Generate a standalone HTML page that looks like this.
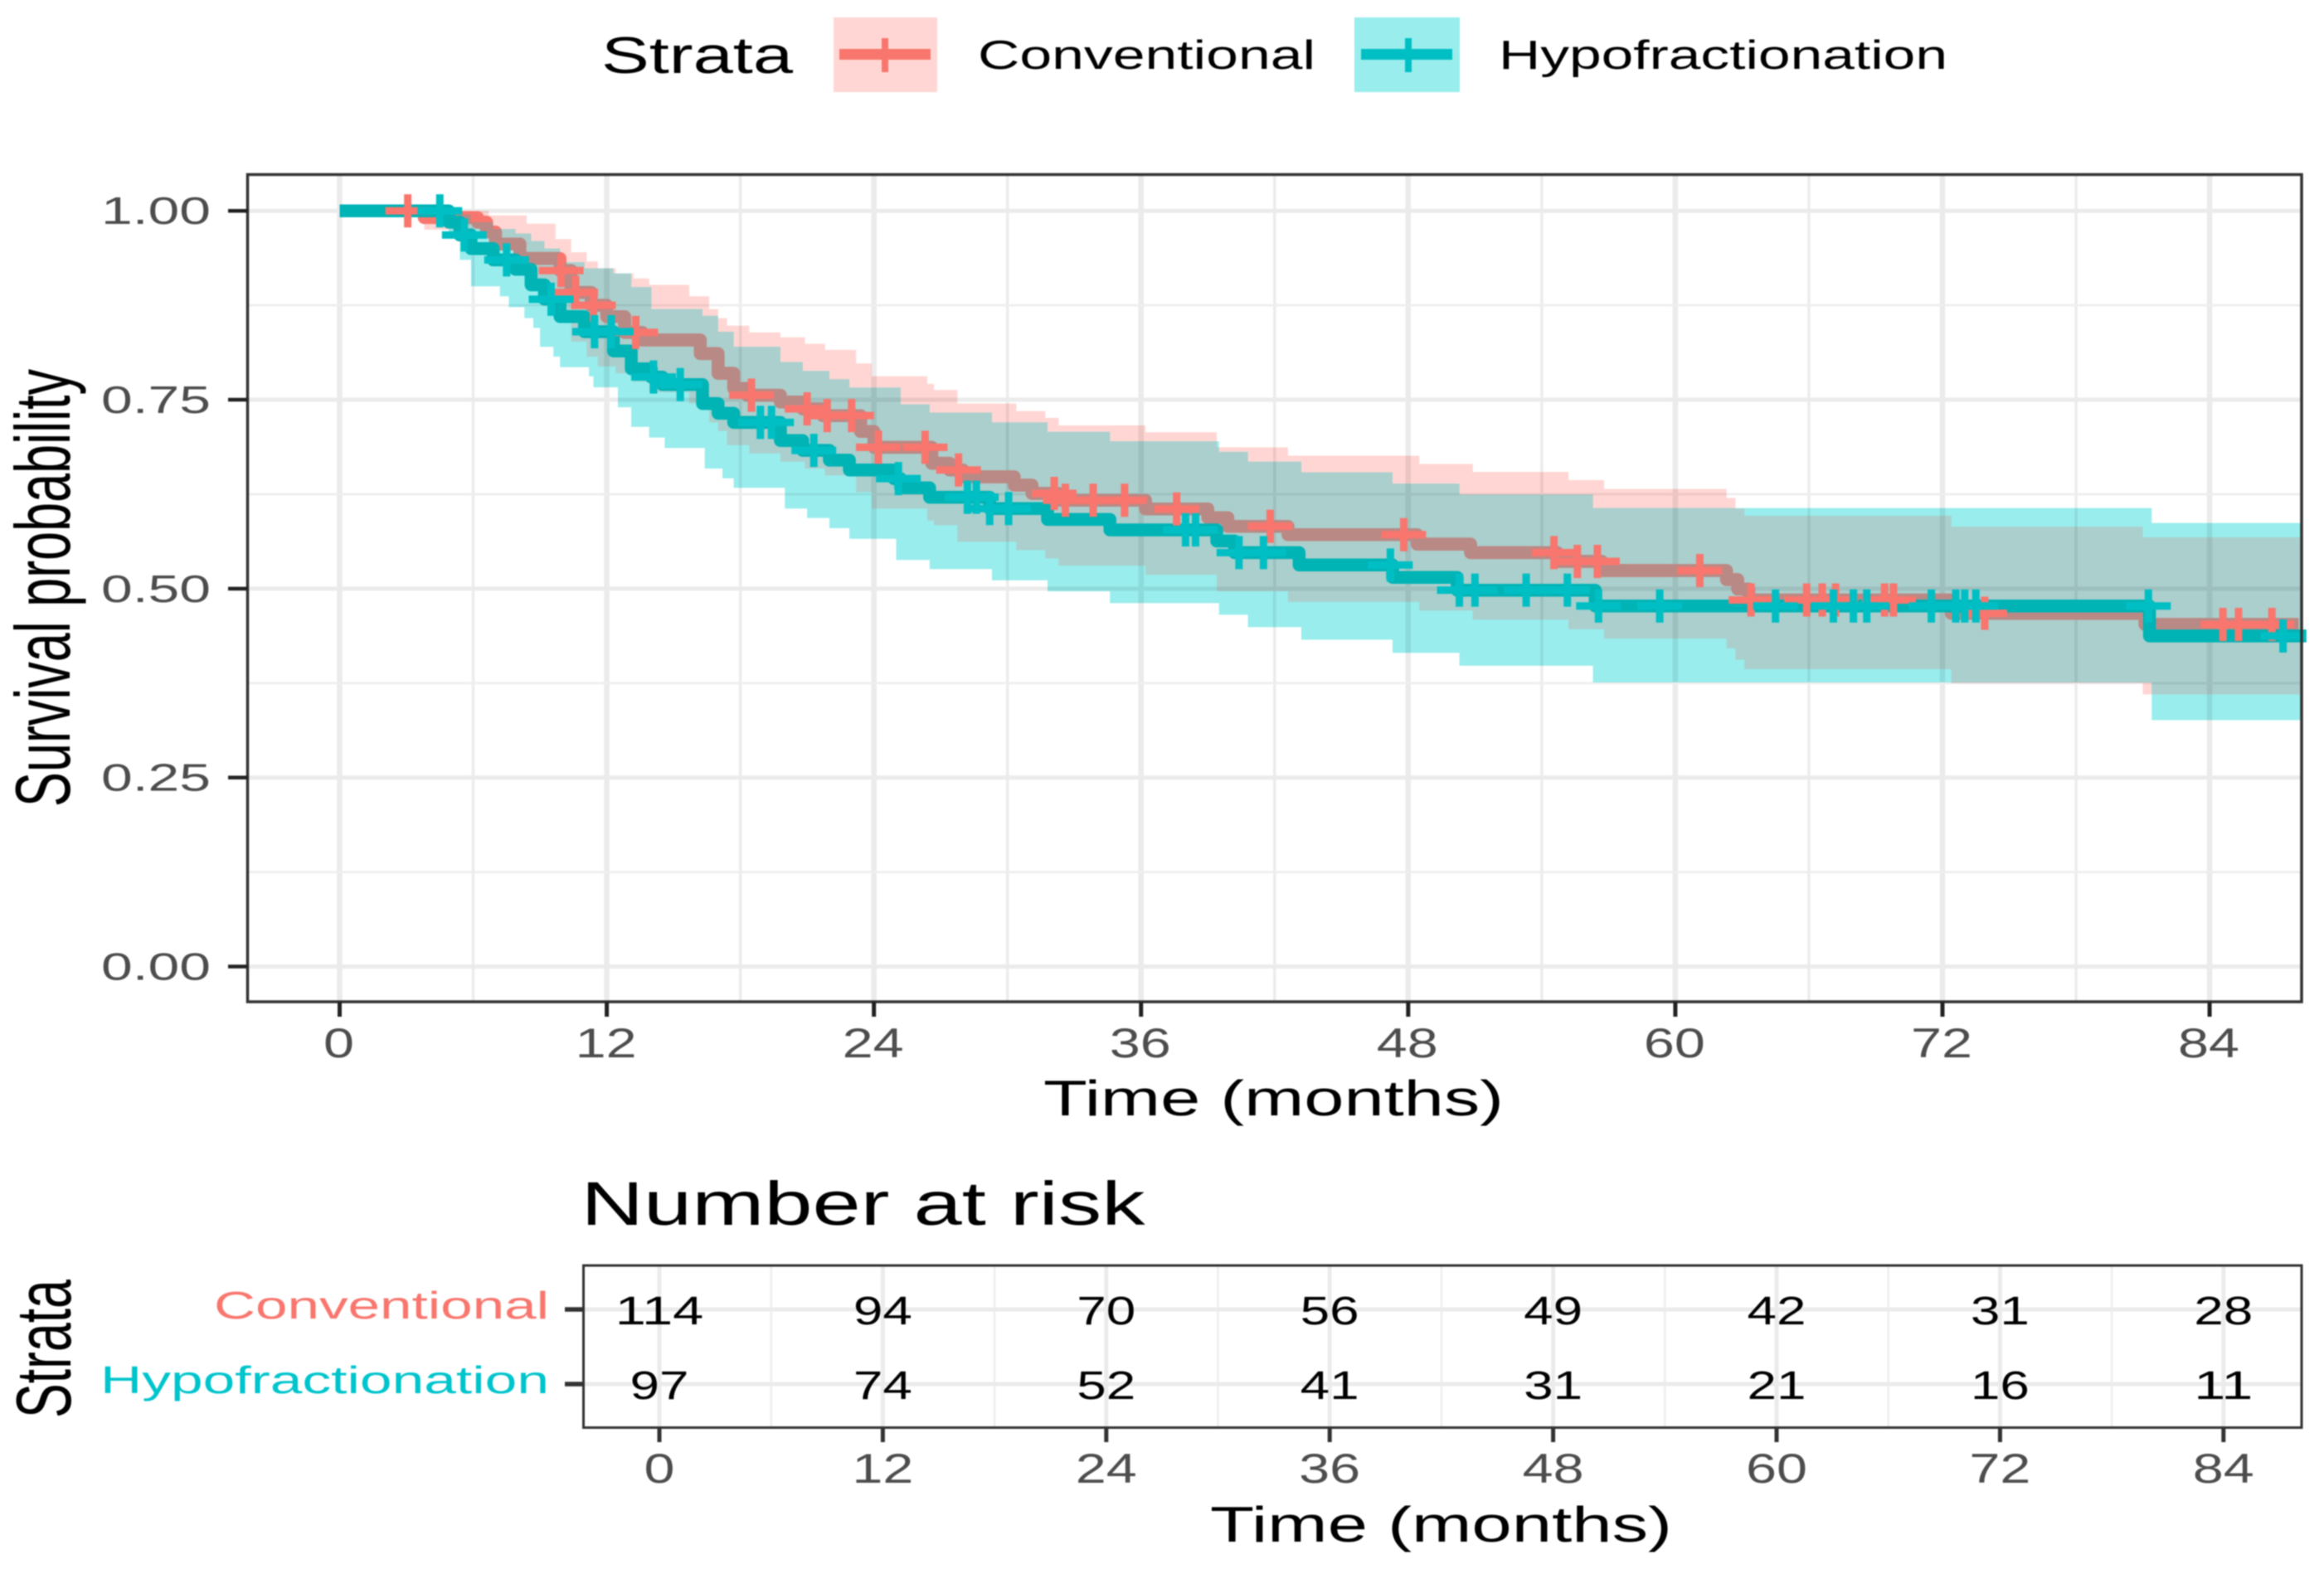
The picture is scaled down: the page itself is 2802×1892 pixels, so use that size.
<!DOCTYPE html>
<html lang="en">
<head>
<meta charset="utf-8">
<title>Survival probability by strata</title>
<style>
html,body{margin:0;padding:0;background:#fff;}
svg{display:block;font-family:"Liberation Sans",sans-serif;filter:blur(0.7px);}
</style>
</head>
<body>
<svg id="chart" xmlns="http://www.w3.org/2000/svg" width="2802" height="1892" viewBox="0 0 2802 1892">
  <rect width="2802" height="1892" fill="#fff"/>

  <g>
    <text x="725" y="88" font-size="62" textLength="231" lengthAdjust="spacingAndGlyphs" fill="#000">Strata</text>
    <g>
      <rect x="1005" y="21" width="125" height="90" fill="#ffd6d3"/>
      <rect x="1012" y="59" width="110" height="13" fill="#f8766d"/>
      <rect x="1063" y="46" width="8" height="41" fill="#f8766d"/>
      <text x="1179" y="83" font-size="49" textLength="407" lengthAdjust="spacingAndGlyphs" fill="#000">Conventional</text>
    </g>
    <g>
      <rect x="1633" y="21" width="127" height="90" fill="#99eded"/>
      <rect x="1641" y="59" width="110" height="13" fill="#00bfc4"/>
      <rect x="1694" y="46" width="8" height="41" fill="#00bfc4"/>
      <text x="1807" y="83" font-size="49" textLength="541" lengthAdjust="spacingAndGlyphs" fill="#000">Hypofractionation</text>
    </g>
  </g>

  <g id="main-grid"></g>
  <g id="ribbons" style="mix-blend-mode:multiply"></g>
  <g id="curves"></g>
  <g id="main-axes"></g>

  <text transform="translate(84,973) rotate(-90)" font-size="94" textLength="528" lengthAdjust="spacingAndGlyphs" fill="#000">Survival probability</text>
  <text x="1258" y="1345" font-size="60" textLength="555" lengthAdjust="spacingAndGlyphs" fill="#000">Time (months)</text>

  <text x="700.5" y="1477" font-size="74" textLength="680" lengthAdjust="spacingAndGlyphs" fill="#000">Number at risk</text>
  <g id="risk-grid"></g>
  <g id="risk-body"></g>
  <text transform="translate(85,1710) rotate(-90)" font-size="94" textLength="167" lengthAdjust="spacingAndGlyphs" fill="#000">Strata</text>
  <text x="1459" y="1859" font-size="60" textLength="557" lengthAdjust="spacingAndGlyphs" fill="#000">Time (months)</text>
</svg>

<script>
// ---- chart data (months, survival probability) ----
const xTicks = [0, 12, 24, 36, 48, 60, 72, 84];
const xMinorTicks = [6, 18, 30, 42, 54, 66, 78];
const yTicks = [1.00, 0.75, 0.50, 0.25, 0.00];
const yMinorTicks = [0.875, 0.625, 0.375, 0.125];
const yTickLabels = ["1.00", "0.75", "0.50", "0.25", "0.00"];

const convTime = [0,3.8,6.2,6.6,7.0,8.1,9.9,10.4,11.3,12.0,12.8,13.6,16.2,17.0,17.7,18.3,19.8,20.8,21.7,23.4,24.0,26.6,27.4,28.0,30.3,31.1,32.3,36.2,39.0,39.9,42.6,48.4,50.8,54.7,56.7,62.3,62.8,63.3,72.4,81.1];
const convSurv = [1,.991,.985,.972,.956,.937,.921,.892,.875,.860,.839,.829,.811,.785,.765,.756,.747,.738,.729,.708,.687,.666,.657,.648,.637,.626,.617,.6055,.594,.5825,.5715,.559,.5477,.536,.524,.512,.4995,.485,.4674,.4527];
const convCITime = [0,3.8,6.7,8.4,9.7,10.4,11.1,11.6,12.4,13.2,13.9,15.7,16.6,17.0,17.4,18.4,19.8,20.9,21.8,23.2,23.9,26.4,26.7,27.75,30.4,31.7,32.3,36.2,39.4,42.6,48.5,50.9,55.2,56.8,62.3,62.7,63.1,72.4,81];
const convUpper = [1,1,.994,.983,.9625,.945,.933,.924,.917,.9105,.902,.887,.87,.858,.848,.839,.8325,.824,.816,.798,.781,.771,.763,.745,.735,.726,.716,.707,.687,.676,.665,.6545,.6436,.632,.62,.606,.5965,.582,.568];
const convLower = [1,.975,.955,.90,.86,.827,.807,.794,.785,.774,.76,.745,.72,.7085,.69,.679,.668,.659,.65,.628,.606,.59,.584,.562,.551,.54,.5305,.5185,.4965,.4826,.471,.459,.4464,.434,.421,.406,.3935,.375,.36];
const convCensor = [3.06,9.95,10.6,11.4,13.3,18.5,21,21.9,23,24.2,26.3,27.8,32.1,32.6,33.85,35.26,37.6,41.8,47.8,54.55,55.6,56.5,61.1,63.4,65.9,66.6,67.2,69.4,69.8,73.9,84.6,85.3,86.8];

const hypoTime = [0,4.9,5.4,5.9,6.9,7.9,8.6,9.2,9.9,11.0,12.3,13.1,14.0,14.5,16.3,17.0,17.7,19.8,20.8,22.0,22.9,24.9,25.2,26.5,29.2,31.8,34.6,39.4,40.2,43.1,47.3,50.2,56.4,81.3];
const hypoSurv = [1,.985,.968,.95,.935,.9225,.902,.883,.86,.84,.8146,.791,.78,.77,.745,.732,.72,.696,.683,.67,.657,.6456,.6335,.621,.606,.5916,.5777,.563,.5477,.5313,.515,.498,.477,.4374];
const hypoUpperTime = [0,4.9,5.4,5.9,6.9,7.9,8.6,9.2,9.9,11.0,12.3,13.1,14.0,16.3,17.0,17.7,19.8,20.8,22.0,22.9,25.2,26.5,29.3,31.8,34.6,39.5,40.8,43.2,47.3,50.3,56.3,81.4];
const hypoUpper = [1,.998,.995,.985,.976,.97,.96,.95,.932,.924,.917,.899,.87,.861,.84,.82,.80,.788,.777,.766,.744,.733,.72,.7076,.695,.681,.668,.654,.639,.6245,.6067,.587];
const hypoLowerTime = [0,4.9,5.4,5.9,7.2,7.6,8.3,8.7,9.0,9.6,9.9,11.2,11.4,12.5,13.1,13.9,14.6,16.4,17.2,17.7,20,21,22,22.9,25,26.5,29.3,31.8,34.6,39.5,40.8,43.2,47.3,50.3,56.3,81.4];
const hypoLower = [1,.97,.935,.9,.887,.8725,.858,.845,.82,.807,.793,.781,.7665,.74,.714,.70,.686,.659,.646,.6335,.606,.5935,.58,.566,.538,.526,.511,.4965,.481,.4655,.449,.4325,.415,.398,.376,.326];
const hypoCensor = [4.5,5.6,7.5,9.5,11.45,12.2,14.1,15.3,18.9,19.4,21.3,25.1,28.2,28.6,29.2,30.05,38.0,38.45,40.4,41.5,47.2,50.3,51,53.3,55.15,56.55,59.3,64.5,67.1,68,68.6,71.5,72.6,73,73.5,81.25,87.3];

const riskStrata = ["Conventional", "Hypofractionation"];
const riskConventional = [114, 94, 70, 56, 49, 42, 31, 28];
const riskHypofractionation = [97, 74, 52, 41, 31, 21, 16, 11];

// ---- axis functions ----
const NS = "http://www.w3.org/2000/svg";
const panel = {left: 298.5, right: 2775, top: 210.5, bottom: 1208};
const table = {left: 703.5, right: 2775, top: 1526, bottom: 1721.5};
const endTime = 88.13;
function x(t) { return 409.5 + 26.84 * t; }
function y(s) { return 1165.5 - 911.3 * s; }
function tx(t) { return 795 + 22.45 * t; }

function el(tag, attrs, parent) {
  const e = document.createElementNS(NS, tag);
  for (const k in attrs) e.setAttribute(k, attrs[k]);
  parent.appendChild(e);
  return e;
}
function stepPoints(ts, ss, end) {
  const pts = [];
  for (let i = 0; i < ts.length; i++) {
    pts.push([x(ts[i]), y(ss[i])]);
    const next = i + 1 < ts.length ? ts[i + 1] : end;
    pts.push([x(next), y(ss[i])]);
  }
  return pts;
}
function pointsToPath(pts) {
  return "M" + pts.map(p => p[0].toFixed(1) + "," + p[1].toFixed(1)).join("L");
}
function ribbonPath(upT, upS, loT, loS, end) {
  const up = stepPoints(upT, upS, end);
  const lo = stepPoints(loT, loS, end).reverse();
  return pointsToPath(up.concat(lo)) + "Z";
}
function stepValue(ts, ss, t) {
  let v = ss[0];
  for (let i = 0; i < ts.length; i++) { if (ts[i] <= t) v = ss[i]; }
  return v;
}

const svg = document.getElementById("chart");
const defs = el("defs", {}, svg);

// ---- main panel grid ----
const mainGrid = document.getElementById("main-grid");
xMinorTicks.forEach(function (t) {
  const l = el("line", {x1: x(t), x2: x(t), y1: panel.top, y2: panel.bottom, stroke: "#ececec", "stroke-width": 3.5}, mainGrid);
  
  
});
xTicks.forEach(function (t) {
  const l = el("line", {x1: x(t), x2: x(t), y1: panel.top, y2: panel.bottom, stroke: "#ebebeb", "stroke-width": 6.5}, mainGrid);
  
  
});
yMinorTicks.forEach(function (s) {
  const l = el("line", {x1: panel.left, x2: panel.right, y1: y(s), y2: y(s), stroke: "#eeeeee", "stroke-width": 2.8}, mainGrid);
  
  
});
yTicks.forEach(function (s) {
  const l = el("line", {x1: panel.left, x2: panel.right, y1: y(s), y2: y(s), stroke: "#ebebeb", "stroke-width": 5}, mainGrid);
  
  
});

// ---- ribbons ----
const convRibbonD = ribbonPath(convCITime, convUpper, convCITime, convLower, endTime);
const hypoRibbonD = ribbonPath(hypoUpperTime, hypoUpper, hypoLowerTime, hypoLower, endTime);
const clipConv = el("clipPath", {id: "clip-conv"}, defs);
el("path", {d: convRibbonD}, clipConv);
const clipHypo = el("clipPath", {id: "clip-hypo"}, defs);
el("path", {d: hypoRibbonD}, clipHypo);

const ribbons = document.getElementById("ribbons");
const r1 = el("path", {d: convRibbonD, fill: "#ffd6d3"}, ribbons);


const r2 = el("path", {d: hypoRibbonD, fill: "#99eded"}, ribbons);


const r3 = el("path", {d: hypoRibbonD, fill: "#aacfcd", "clip-path": "url(#clip-conv)"}, ribbons);



// ---- curves ----
const curves = document.getElementById("curves");
const convD = pointsToPath(stepPoints(convTime, convSurv, 88.0));
const hypoD = pointsToPath(stepPoints(hypoTime, hypoSurv, 88.35));
const lineAttrs = {fill: "none", "stroke-width": 15.5, "stroke-linejoin": "round", "stroke-linecap": "butt"};

const c1 = el("path", Object.assign({d: convD, stroke: "#f8766d"}, lineAttrs), curves);


const c2 = el("path", Object.assign({d: convD, stroke: "#b98985", "clip-path": "url(#clip-hypo)"}, lineAttrs), curves);


const c3 = el("path", Object.assign({d: hypoD, stroke: "#00b3b5"}, lineAttrs), curves);



function censorMark(t, s, color, parent) {
  const cx = x(t), cy = y(s);
  return el("path", {d: "M" + (cx - 27) + "," + cy + "H" + (cx + 27) + "M" + cx + "," + (cy - 20) + "V" + (cy + 20), stroke: color, "stroke-width": 9, fill: "none"}, parent);
}
convCensor.forEach(function (t) {
  const m = censorMark(t, stepValue(convTime, convSurv, t), "#f8766d", curves);
  
  
});
hypoCensor.forEach(function (t) {
  const m = censorMark(t, stepValue(hypoTime, hypoSurv, t), "#00bfc4", curves);
  
  
});

// ---- main axes ----
const mainAxes = document.getElementById("main-axes");
const frame = el("rect", {x: panel.left, y: panel.top, width: panel.right - panel.left, height: panel.bottom - panel.top, fill: "none", stroke: "#333", "stroke-width": 3.5}, mainAxes);



yTicks.forEach(function (s, i) {
  const tk = el("line", {x1: 275, x2: panel.left, y1: y(s), y2: y(s), stroke: "#222", "stroke-width": 4.5}, mainAxes);
  
  
  const lb = el("text", {x: 122, y: y(s) + 16, "font-size": 46, fill: "#4d4d4d", textLength: 132, lengthAdjust: "spacingAndGlyphs"}, mainAxes);
  lb.textContent = yTickLabels[i];
  
  
});
xTicks.forEach(function (t) {
  const tk = el("line", {x1: x(t), x2: x(t), y1: panel.bottom, y2: 1226, stroke: "#222", "stroke-width": 5}, mainAxes);
  
  
  const s = String(t);
  const lb = el("text", {x: x(t) - 1, y: 1275, "font-size": 50, fill: "#4d4d4d", "text-anchor": "middle", textLength: s.length * 37, lengthAdjust: "spacingAndGlyphs"}, mainAxes);
  lb.textContent = s;
  
  
});

// ---- risk table ----
const riskGrid = document.getElementById("risk-grid");
const riskBody = document.getElementById("risk-body");
const rowY = [1579, 1669];
xMinorTicks.forEach(function (t) {
  const l = el("line", {x1: tx(t), x2: tx(t), y1: table.top, y2: table.bottom, stroke: "#eeeeee", "stroke-width": 2.5}, riskGrid);
  
  
});
xTicks.forEach(function (t) {
  const l = el("line", {x1: tx(t), x2: tx(t), y1: table.top, y2: table.bottom, stroke: "#ebebeb", "stroke-width": 5}, riskGrid);
  
  
});
rowY.forEach(function (ry) {
  const l = el("line", {x1: table.left, x2: table.right, y1: ry, y2: ry, stroke: "#ebebeb", "stroke-width": 5}, riskGrid);
  
  
});

const riskFrame = el("rect", {x: table.left, y: table.top, width: table.right - table.left, height: table.bottom - table.top, fill: "none", stroke: "#333", "stroke-width": 3}, riskBody);



const riskColors = ["#f8766d", "#00c4cc"];
const riskLabelLengths = [404, 541];
[riskConventional, riskHypofractionation].forEach(function (row, r) {
  const lb = el("text", {x: 662, y: rowY[r] + 11, "font-size": 46, fill: riskColors[r], "text-anchor": "end", textLength: riskLabelLengths[r], lengthAdjust: "spacingAndGlyphs"}, riskBody);
  lb.textContent = riskStrata[r];
  
  
  const tk = el("line", {x1: 681, x2: table.left, y1: rowY[r], y2: rowY[r], stroke: "#333", "stroke-width": 5.5}, riskBody);
  
  
  row.forEach(function (n, i) {
    const s = String(n);
    const v = el("text", {x: tx(xTicks[i]), y: rowY[r] + 18, "font-size": 48, fill: "#000", "text-anchor": "middle", textLength: s.length * 35.5, lengthAdjust: "spacingAndGlyphs"}, riskBody);
    v.textContent = s;
    
    
  });
});
xTicks.forEach(function (t) {
  const tk = el("line", {x1: tx(t), x2: tx(t), y1: table.bottom, y2: 1739, stroke: "#333", "stroke-width": 5}, riskBody);
  
  
  const s = String(t);
  const lb = el("text", {x: tx(t), y: 1788, "font-size": 50, fill: "#4d4d4d", "text-anchor": "middle", textLength: s.length * 37, lengthAdjust: "spacingAndGlyphs"}, riskBody);
  lb.textContent = s;
  
  
});
</script>
</body>
</html>
